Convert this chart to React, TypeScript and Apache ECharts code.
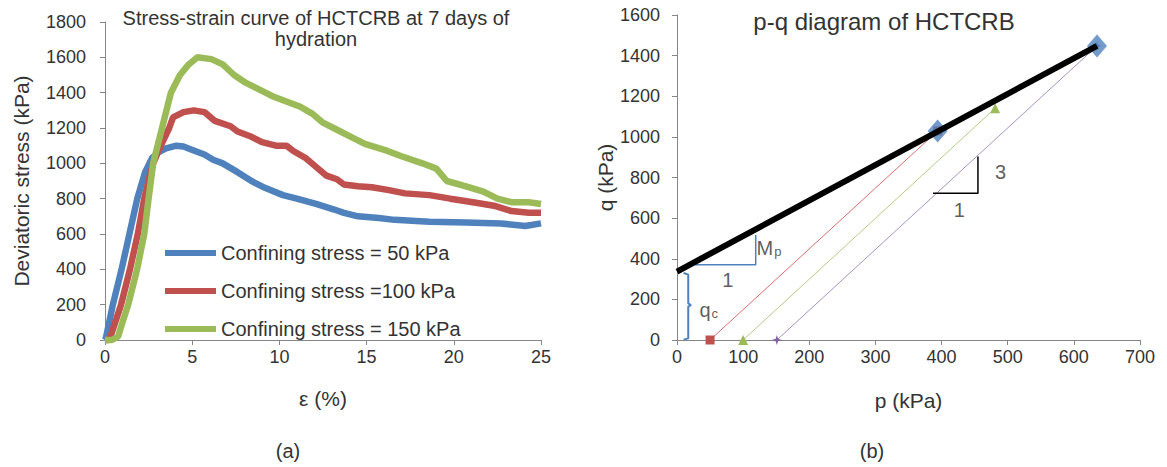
import React, { useEffect, useRef } from "react";
import * as echarts from "echarts";

// ---------- (a) stress-strain data ----------
const strain50 = [0, 0.05, 0.45, 0.95, 1.4, 1.85, 2.3, 2.7, 3.1, 3.5, 4.1, 4.5, 4.9, 5.7, 6.2, 6.75, 7.6, 8.4, 9.2, 10.2, 11, 12.1, 13.1, 13.7, 14.5, 15.7, 16.6, 18.6, 20.7, 22.7, 24.1, 25];
const stress50 = [0, 10, 200, 400, 600, 800, 950, 1030, 1065, 1085, 1100, 1095, 1080, 1050, 1020, 1000, 950, 900, 860, 820, 800, 770, 740, 720, 700, 690, 680, 670, 665, 660, 645, 660];

const strain100 = [0, 0.2, 0.35, 0.92, 1.43, 1.88, 2.25, 2.76, 3.2, 3.68, 3.9, 4.5, 5.1, 5.7, 6.3, 7.2, 7.6, 8.4, 9, 9.8, 10.4, 10.8, 11.5, 12.1, 12.7, 13.3, 13.7, 14.5, 15.3, 16.2, 17.2, 18.6, 19.8, 21.1, 22.3, 23.3, 24.3, 25];
const stress100 = [0, 0, 30, 200, 400, 600, 800, 1000, 1100, 1200, 1260, 1290, 1300, 1290, 1240, 1210, 1180, 1150, 1120, 1100, 1100, 1070, 1030, 980, 930, 910, 880, 870, 865, 850, 830, 820, 800, 780, 760, 730, 720, 720];

const strain150 = [0, 0.4, 0.75, 1.0, 1.33, 1.84, 2.25, 2.5, 2.76, 3.27, 3.78, 4.3, 4.8, 5.3, 6.1, 6.75, 7.4, 8, 8.8, 9.6, 10.4, 11.2, 11.9, 12.5, 13.3, 14.1, 14.9, 16.2, 17, 18.2, 19, 19.6, 20.7, 21.7, 22.5, 23.3, 24.3, 25];
const stress150 = [0, 0, 20, 100, 200, 400, 600, 800, 1000, 1200, 1400, 1500, 1560, 1600, 1590, 1560, 1500, 1460, 1420, 1380, 1350, 1320, 1280, 1230, 1190, 1150, 1110, 1070, 1040, 1000, 970, 900, 870, 840, 800, 780, 780, 770];

const seriesNames = ["Confining stress = 50 kPa", "Confining stress =100 kPa", "Confining stress = 150 kPa"];

// ---------- (b) p-q data ----------
const pathP100 = [50, 394];
const pathQ100 = [0, 1029];
const pathP150 = [100, 481];
const pathQ150 = [0, 1141];
const pathP200 = [151, 635];
const pathQ200 = [0, 1448];
const failureP = [394, 635];
const failureQ = [1029, 1448];
const envelopeP = [0, 635];
const envelopeQ = [337, 1448];

// annotation geometry (data coordinates of the p-q chart)
const slopeTriP = [387, 455, 455];
const slopeTriQ = [723, 723, 903];
const mpTriP = [27, 119, 119];
const mpTriQ = [370, 370, 517];
const braceP = [10, 17, 17, 21, 17, 17, 10];
const braceQ = [330, 322, 180, 172, 164, 8, 2];
const annoLabels = ["{m|M}{s|p}", "1", "3", "1", "{m|q}{s|c}"];
const annoP = [139, 77, 489, 427, 48];
const annoQ = [453, 295, 829, 640, 150];

const zip = (xs: number[], ys: number[]) => xs.map((x, i) => [x, ys[i]]);

const FONT = "'Liberation Sans', Arial, sans-serif";
const TXT = "#333333";
const AX = "#868686";
const plain = (v: number) => String(v);

function axisCommon(extra: any) {
  return {
    axisLine: { show: true, lineStyle: { color: AX, width: 1 } },
    axisTick: { show: true, inside: false, length: 5, lineStyle: { color: AX } },
    splitLine: { show: false },
    nameTextStyle: { color: TXT, fontSize: 21, fontFamily: FONT },
    ...extra,
  };
}

export default function App() {
  const ref = useRef<HTMLDivElement>(null);
  useEffect(() => {
    if (!ref.current) return;
    const chart = echarts.init(ref.current, undefined, { renderer: "svg" });
    const colors = ["#4F81BD", "#C0504D", "#9BBB59"];
    const left = [zip(strain50, stress50), zip(strain100, stress100), zip(strain150, stress150)];
    const lbl = (margin: number) => ({ color: TXT, fontSize: 18, fontFamily: FONT, margin, formatter: plain });

    const option: any = {
      animation: false,
      backgroundColor: "#ffffff",
      textStyle: { fontFamily: FONT },
      grid: [
        { left: 105, top: 22, width: 436, height: 318 },
        { left: 677, top: 15, width: 463, height: 325 },
      ],
      xAxis: [
        axisCommon({
          gridIndex: 0, type: "value", min: 0, max: 25, interval: 5,
          name: "ε (%)", nameLocation: "middle", nameGap: 48,
          axisLabel: lbl(8),
        }),
        axisCommon({
          gridIndex: 1, type: "value", min: 0, max: 700, interval: 100,
          name: "p (kPa)", nameLocation: "middle", nameGap: 50,
          axisLabel: lbl(8),
        }),
      ],
      yAxis: [
        axisCommon({
          gridIndex: 0, type: "value", min: 0, max: 1800, interval: 200,
          name: "Deviatoric stress (kPa)", nameLocation: "middle", nameGap: 73,
          axisLabel: lbl(19),
        }),
        axisCommon({
          gridIndex: 1, type: "value", min: 0, max: 1600, interval: 200,
          name: "q (kPa)", nameLocation: "middle", nameGap: 38,
          axisLabel: lbl(17),
        }),
      ],
      legend: {
        data: seriesNames,
        orient: "vertical",
        left: 160,
        top: 238,
        icon: "rect",
        itemWidth: 51,
        itemHeight: 6,
        itemGap: 18,
        textStyle: { color: TXT, fontSize: 20, fontFamily: FONT, lineHeight: 20 },
      },
      graphic: [
        {
          type: "text", x: 316, y: 28,
          style: { text: "Stress-strain curve of HCTCRB at 7 days of\nhydration", fontSize: 20, fontFamily: FONT, fill: TXT, align: "center", verticalAlign: "middle", lineHeight: 21 },
        },
        {
          type: "text", x: 884, y: 21,
          style: { text: "p-q diagram of HCTCRB", fontSize: 24, fontFamily: FONT, fill: TXT, align: "center", verticalAlign: "middle" },
        },
        { type: "text", x: 288, y: 451, style: { text: "(a)", fontSize: 20, fontFamily: FONT, fill: TXT, align: "center", verticalAlign: "middle" } },
        { type: "text", x: 872, y: 451, style: { text: "(b)", fontSize: 20, fontFamily: FONT, fill: TXT, align: "center", verticalAlign: "middle" } },
      ],
      series: [
        ...left.map((d, i) => ({
          name: seriesNames[i],
          type: "line",
          xAxisIndex: 0,
          yAxisIndex: 0,
          data: d,
          showSymbol: false,
          symbol: "circle",
          clip: false,
          color: colors[i],
          lineStyle: { width: 6.5, color: colors[i] },
          z: 2 + i,
        })),
        {
          type: "line", xAxisIndex: 1, yAxisIndex: 1, data: zip(pathP100, pathQ100),
          symbol: "rect", symbolSize: 9, clip: false,
          lineStyle: { width: 1, color: "#D9706E" }, itemStyle: { color: "#C0504D" }, z: 2,
        },
        {
          type: "line", xAxisIndex: 1, yAxisIndex: 1, data: zip(pathP150, pathQ150),
          symbol: "triangle", symbolSize: 10, clip: false,
          lineStyle: { width: 1, color: "#B3CD85" }, itemStyle: { color: "#9BBB59" }, z: 2,
        },
        {
          type: "line", xAxisIndex: 1, yAxisIndex: 1, data: zip(pathP200, pathQ200),
          symbol: "path://M5,0 L6.2,3.8 L10,5 L6.2,6.2 L5,10 L3.8,6.2 L0,5 L3.8,3.8Z", symbolSize: 10, clip: false,
          lineStyle: { width: 1, color: "#A594C2" }, itemStyle: { color: "#8064A2" }, z: 2,
        },
        {
          type: "scatter", xAxisIndex: 1, yAxisIndex: 1, data: zip(failureP, failureQ),
          symbol: "diamond", symbolSize: [20, 23], clip: false,
          itemStyle: { color: "#4F81BD" }, z: 3,
        },
        {
          type: "line", xAxisIndex: 1, yAxisIndex: 1, data: zip(envelopeP, envelopeQ),
          symbol: "none", clip: false,
          lineStyle: { width: 6, color: "#000000" }, z: 4,
        },
        {
          type: "line", xAxisIndex: 1, yAxisIndex: 1, data: zip(slopeTriP, slopeTriQ),
          symbol: "none", clip: false, lineStyle: { width: 1.5, color: "#000000" }, z: 2,
        },
        {
          type: "line", xAxisIndex: 1, yAxisIndex: 1, data: zip(mpTriP, mpTriQ),
          symbol: "none", clip: false, lineStyle: { width: 1.5, color: "#4F81BD" }, z: 2,
        },
        {
          type: "line", xAxisIndex: 1, yAxisIndex: 1, data: zip(braceP, braceQ),
          symbol: "none", clip: false, lineStyle: { width: 2, color: "#4F81BD" }, z: 2,
        },
        {
          type: "scatter", xAxisIndex: 1, yAxisIndex: 1,
          data: annoP.map((p, i) => ({ value: [p, annoQ[i]], label: { formatter: annoLabels[i] } })),
          symbol: "circle", symbolSize: 1, clip: false,
          itemStyle: { color: "rgba(0,0,0,0)" },
          label: {
            show: true, position: "inside", color: TXT, fontSize: 20, fontFamily: FONT,
            rich: {
              m: { fontSize: 20, fontFamily: FONT, color: TXT },
              s: { fontSize: 13, fontFamily: FONT, color: TXT, padding: [8, 0, 0, 1] },
            },
          },
          z: 5,
        },
      ],
    };
    chart.setOption(option);
    return () => chart.dispose();
  }, []);
  return (
    <div
      ref={ref}
      style={{ position: "fixed", left: 0, top: 0, width: 1167, height: 467, background: "#fff" }}
    />
  );
}
